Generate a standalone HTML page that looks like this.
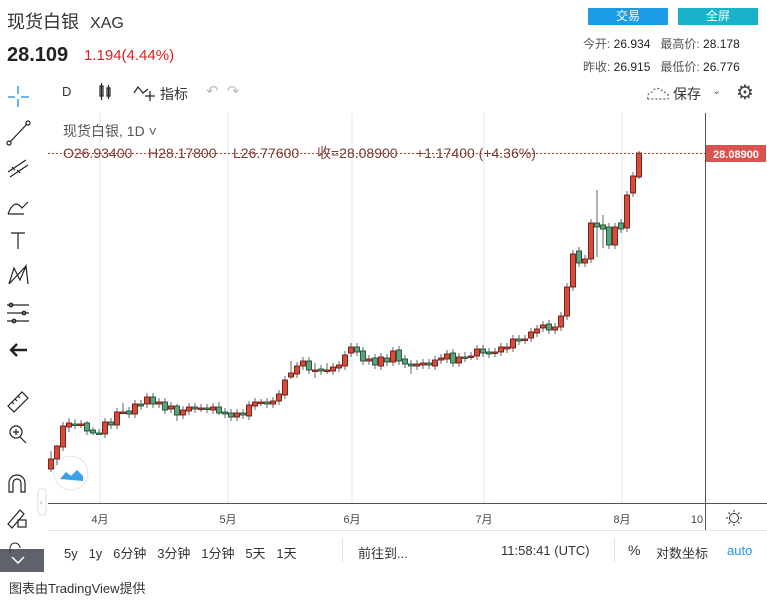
<!DOCTYPE html>
<html><head><meta charset="utf-8">
<style>
body{margin:0;width:767px;height:602px;background:#fff;font-family:"Liberation Sans","Noto Sans CJK SC",sans-serif;position:relative;overflow:hidden;color:#333}
.a{position:absolute;white-space:nowrap}
</style></head><body>
<div class="a" style="left:7px;top:8px;font-size:18px;color:#333">现货白银 <span style="font-size:16px;margin-left:6px">XAG</span></div>
<div class="a" style="left:7px;top:44px;font-size:20px;font-weight:bold;color:#222">28.109</div>
<div class="a" style="left:84px;top:47px;font-size:15px;color:#e02020">1.194(4.44%)</div>
<div class="a" style="left:588px;top:8px;width:80px;height:17px;background:#1a9be6;color:#fff;font-size:12px;text-align:center;line-height:17px">交易</div>
<div class="a" style="left:678px;top:8px;width:80px;height:17px;background:#18b2c9;color:#fff;font-size:12px;text-align:center;line-height:17px">全屏</div>
<div class="a" style="left:583px;top:35px;font-size:12px;color:#555">今开: <span style="color:#222">26.934</span>&nbsp;&nbsp;&nbsp;最高价: <span style="color:#222">28.178</span></div>
<div class="a" style="left:583px;top:58px;font-size:12px;color:#555">昨收: <span style="color:#222">26.915</span>&nbsp;&nbsp;&nbsp;最低价: <span style="color:#222">26.776</span></div>

<div class="a" style="left:62px;top:84px;font-size:13px">D</div>
<div class="a" style="left:160px;top:84px;font-size:14px">指标</div>
<div class="a" style="left:673px;top:84px;font-size:14px">保存</div>
<div class="a" style="left:712px;top:84px;font-size:11px;color:#555">⌄</div>
<div class="a" style="left:736px;top:80px;font-size:20px;color:#444">⚙</div>
<div class="a" style="left:206px;top:82px;font-size:15px;color:#bbb">↶ &nbsp;↷</div>

<svg class="a" style="left:0;top:0" width="767" height="602">
<g stroke="#1a8de6" stroke-width="1.3"><line x1="18" y1="86" x2="18" y2="94"/><line x1="18" y1="99" x2="18" y2="107"/><line x1="8" y1="97" x2="15" y2="97"/><line x1="21" y1="97" x2="29" y2="97"/></g>
<g stroke="#222" fill="none" stroke-width="1.2">
<rect x="100" y="86" width="3" height="10"/><line x1="101.5" y1="83" x2="101.5" y2="100"/><rect x="107" y="88" width="3" height="8"/><line x1="108.5" y1="85" x2="108.5" y2="99"/>
<polyline points="134,93 138,87 143,93 148,89"/><line x1="150" y1="91" x2="150" y2="101"/><line x1="145" y1="96" x2="155" y2="96"/>
<path d="M648,99 a5,5 0 0 1 4,-7 a6,6 0 0 1 11,0 a5,5 0 0 1 5,7 z" stroke-dasharray="2,2" stroke="#666"/>
<line x1="10" y1="142" x2="27" y2="124"/><circle cx="9" cy="143" r="2"/><circle cx="28" cy="123" r="2"/>
<path d="M8,172 L26,160 M10,177 L28,165 M12,167 l3,3 M17,170 l3,3"/>
<path d="M8,214 q6,-16 14,-6 l6,-6 M8,214 l16,0"/>
<path d="M11,233 h14 M18,233 v16"/>
<path d="M9,284 L14,268 L20,280 L26,266 L28,284 M9,284 L26,266"/>
<path d="M7,305 h22 M7,313 h22 M7,321 h22"/><circle cx="11" cy="305" r="1.8"/><circle cx="24" cy="313" r="1.8"/><circle cx="14" cy="321" r="1.8"/>
<path d="M27,350 H11 M17,344 l-6,6 6,6" stroke-width="2.4"/>
<path d="M8,406 L22,392 L28,398 L14,412 Z M12,402 l2,2 M15,399 l2,2 M18,396 l2,2"/>
<circle cx="16" cy="432" r="6"/><line x1="20" y1="437" x2="26" y2="443"/><path d="M13,432 h6 M16,429 v6"/>
<path d="M9,492 v-9 a8,8 0 0 1 16,0 v9 h-4 v-9 a4,4 0 0 0 -8,0 v9 z"/>
<path d="M8,524 l12,-14 4,4 -12,14 z"/><rect x="18" y="520" width="8" height="7"/>
</g>
<rect x="0" y="549" width="44" height="23" fill="#5f626b"/>
<path d="M12,557 l6,6 6,-6" stroke="#fff" stroke-width="1.5" fill="none"/>
<path d="M10,553 v-5 a5,5 0 0 1 10,0" stroke="#333" fill="none"/>
<rect x="38" y="489" width="8" height="26" rx="3" fill="#fff" stroke="#ddd"/>
<text x="40" y="505" font-size="8" fill="#999">‹</text>

<g stroke="#dbe8f3" stroke-width="1"><line x1="100" y1="113" x2="100" y2="503"/><line x1="228" y1="113" x2="228" y2="503"/><line x1="352" y1="113" x2="352" y2="503"/><line x1="484" y1="113" x2="484" y2="503"/><line x1="622" y1="113" x2="622" y2="503"/></g>
<line x1="48" y1="503.5" x2="767" y2="503.5" stroke="#50535e"/>
<line x1="705.5" y1="113" x2="705.5" y2="530" stroke="#50535e"/>
<line x1="48" y1="530.5" x2="767" y2="530.5" stroke="#e0e3eb"/>
<line x1="48" y1="153.5" x2="705" y2="153.5" stroke="#c0392b" stroke-dasharray="2,2"/>
<rect x="706" y="145" width="60" height="17" fill="#d9534f"/>
<text x="736" y="158" font-size="11" fill="#fff" text-anchor="middle" font-weight="bold">28.08900</text>
<text x="63" y="136" font-size="14" fill="#555" font-family="Liberation Sans,Noto Sans CJK SC,sans-serif">现货白银, 1D ˅</text>
<g font-size="14" fill="#7a3b30" font-family="Liberation Sans,Noto Sans CJK SC,sans-serif">
<text x="63" y="158">O26.93400</text><text x="148" y="158">H28.17800</text><text x="233" y="158">L26.77600</text><text x="317" y="158">收=28.08900</text><text x="416" y="158">+1.17400 (+4.36%)</text></g>
<g font-size="11" fill="#444" text-anchor="middle" font-family="Liberation Sans,Noto Sans CJK SC,sans-serif"><text x="100" y="523">4月</text><text x="228" y="523">5月</text><text x="352" y="523">6月</text><text x="484" y="523">7月</text><text x="622" y="523">8月</text><text x="697" y="523">10</text></g>
<g stroke="#333" fill="none"><circle cx="734" cy="518" r="4.5"/><path d="M734,510v2M734,524v2M726,518h2M740,518h2M728.5,512.5l1.4,1.4M738.1,522.1l1.4,1.4M728.5,523.5l1.4,-1.4M738.1,513.9l1.4,-1.4"/></g>
<circle cx="71" cy="473" r="17" fill="#fff" stroke="#e6e6e6"/>
<path d="M60,479 l6,-7 5,4 6,-6 6,6 v5 z" fill="#3aa0e8"/>
<g id="c"></g>
<line x1="342.5" y1="538" x2="342.5" y2="562" stroke="#e0e3eb"/>
<line x1="614.5" y1="538" x2="614.5" y2="562" stroke="#e0e3eb"/>
</svg>
<div class="a" style="left:64px;top:543px;font-size:13px;color:#333;word-spacing:0">5y &nbsp;&nbsp;1y &nbsp;&nbsp;6分钟 &nbsp;&nbsp;3分钟 &nbsp;&nbsp;1分钟 &nbsp;&nbsp;5天 &nbsp;&nbsp;1天</div>
<div class="a" style="left:358px;top:543px;font-size:13px">前往到...</div>
<div class="a" style="left:501px;top:543px;font-size:13px">11:58:41 (UTC)</div>
<div class="a" style="left:628px;top:542px;font-size:14px">%</div>
<div class="a" style="left:656px;top:543px;font-size:13px">对数坐标</div>
<div class="a" style="left:727px;top:543px;font-size:13px;color:#2196f3">auto</div>
<div class="a" style="left:9px;top:578px;font-size:13px;color:#333">图表由TradingView提供</div>
<script>
var d=[[51,459,469,'r',451,472],[57,446,459,'r',445,465],[63,426,447,'r'],[69,423,427,'r',418,432],[75,424,425,'g',419,429],[81,424,424,'r',420,428],[87,423,431,'g',421,435],[93,430,433,'g',427,435],[99,433,433,'g',429,435],[105,422,434,'r'],[111,422,425,'g'],[117,412,425,'r'],[123,412,412,'r',403,414],[129,411,414,'g'],[135,404,414,'r'],[141,404,406,'g'],[147,397,404,'r'],[153,397,404,'g'],[159,402,404,'r'],[165,402,410,'g'],[171,406,409,'r'],[177,406,415,'g',404,421],[183,410,415,'r'],[189,407,411,'r'],[195,407,409,'g'],[201,408,408,'r'],[207,408,409,'g'],[213,407,410,'r'],[219,407,413,'g',402,415],[225,412,414,'g'],[231,413,417,'g'],[237,413,417,'r'],[243,413,415,'g'],[249,405,416,'r'],[255,402,406,'r'],[261,402,402,'r',399,406],[267,402,404,'g'],[273,401,404,'r'],[279,394,401,'r'],[285,380,395,'r'],[291,373,377,'r',361,379],[297,366,374,'r'],[303,361,366,'r'],[309,361,370,'g'],[315,370,370,'r',363,378],[321,369,371,'g'],[327,370,370,'r',363,374],[333,367,371,'r'],[339,365,368,'r'],[345,355,366,'r'],[351,347,353,'r'],[357,347,352,'g'],[363,351,361,'g'],[369,359,361,'r'],[375,358,365,'g'],[381,357,366,'r'],[387,358,362,'g'],[393,351,362,'r'],[399,350,361,'g'],[405,359,364,'g'],[411,364,366,'g',360,374],[417,364,366,'r'],[423,363,365,'r'],[429,363,365,'g'],[435,360,366,'r'],[441,358,360,'r'],[447,354,359,'r'],[453,353,363,'g'],[459,357,363,'r'],[465,357,357,'g',352,362],[471,356,356,'r'],[477,349,356,'r'],[483,349,353,'g'],[489,352,354,'g'],[495,352,353,'r'],[501,347,352,'r'],[507,347,349,'r'],[513,339,348,'r'],[519,339,341,'g'],[525,339,340,'r'],[531,332,338,'r'],[537,329,333,'r'],[543,325,328,'r'],[549,324,330,'g'],[555,327,330,'r'],[561,316,327,'r'],[567,287,316,'r'],[573,254,287,'r'],[579,251,263,'g'],[585,259,263,'r'],[591,223,259,'r'],[597,223,227,'g',190,257],[603,225,229,'g',215,248],[609,227,245,'g'],[615,227,245,'r'],[621,223,229,'g'],[627,195,228,'r'],[633,176,193,'r'],[639,153,177,'r',151,179]];
var s='';d.forEach(function(c){var t=c[4]||c[1]-4,b=c[5]||c[2]+4,f=c[3]=='r'?'#d94a3a':'#5ba37c',st=c[3]=='r'?'#6b1a12':'#1f4d33';
s+='<line x1="'+c[0]+'" y1="'+t+'" x2="'+c[0]+'" y2="'+b+'" stroke="#666"/>';
var h=Math.max(c[2]-c[1],1.5);s+='<rect x="'+(c[0]-2.5)+'" y="'+c[1]+'" width="5" height="'+h+'" fill="'+f+'" stroke="'+st+'" stroke-width="0.9"/>';});
document.getElementById('c').innerHTML=s;
</script>
</body></html>
